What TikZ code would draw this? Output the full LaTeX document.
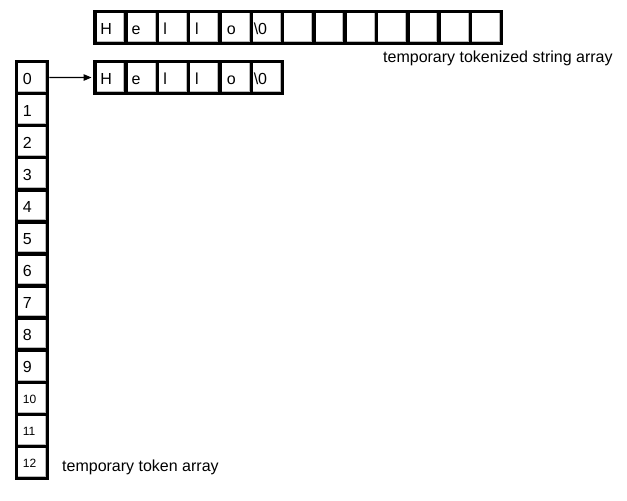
\documentclass[tikz,border=0pt]{standalone}
\usepackage{fontspec}
\setmainfont{Liberation Sans}
\usetikzlibrary{arrows.meta}
\tikzset{
  cell/.style={draw=black, fill=white, line width=3.5pt, inner sep=0pt,
    minimum width=31.3pt, minimum height=#1,
    path picture={\draw[gray!55,line width=1pt]
      ([xshift=-2.3pt]path picture bounding box.north east) --
      ([xshift=-2.3pt,yshift=2.3pt]path picture bounding box.south east) --
      ([yshift=2.3pt]path picture bounding box.south west);}},
  cell/.default=32pt,
  celltext/.style={anchor=base west, inner sep=0pt, font=\fontsize{16}{18}\selectfont},
  smalltext/.style={anchor=base west, inner sep=0pt, font=\fontsize{12}{14}\selectfont},
  lbl/.style={anchor=base west, inner sep=0pt, font=\fontsize{16}{18}\selectfont},
  ptr/.style={-{Triangle[length=8pt,width=6.5pt]}, line width=1.1pt, shorten >=1.5pt}
}
\begin{document}
\begin{tikzpicture}[x=1pt,y=-1pt]
\useasboundingbox[fill=white] (0,0) rectangle (627,501);
% top array (13 cells)
\foreach \i in {0,...,12} {
  \node[cell] (a\i) at ({94.8+31.3*(\i+0.5)},27.5) {};
}
% second array (6 cells)
\foreach \i in {0,...,5} {
  \node[cell] (s\i) at ({94.8+31.3*(\i+0.5)},77.5) {};
}
% left column (13 cells)
\foreach \j in {0,...,12} {
  \node[cell=32.08pt, minimum width=31pt] (t\j) at (32,{61.5+32.08*(\j+0.5)}) {};
}
% texts in top and second arrays
\foreach \c/\txt/\dx in {0/H/7,1/e/7,2/l/7.5,3/l/8,4/o/8.5,5/{\textbackslash 0}/4} {
  \node[celltext] (at\c) at ([xshift=\dx pt, yshift=-7.3pt]a\c.west) {\txt};
  \node[celltext] (st\c) at ([xshift=\dx pt, yshift=-6.8pt]s\c.west) {\txt};
}
% texts in left column
\foreach \j in {0,...,9} {
  \node[celltext] (tt\j) at ([xshift=8pt, yshift=-6.6pt]t\j.west) {\j};
}
\foreach \j in {10,11,12} {
  \node[smalltext] (tt\j) at ([xshift=8pt, yshift=-5.2pt]t\j.west) {\j};
}
% pointer
\draw[ptr] (t0.east) -- (s0.west);
% labels
\node[lbl] (lab1) at (383,62.5) {temporary tokenized string array};
\node[lbl] (lab2) at (62,471) {temporary token array};
\end{tikzpicture}
\end{document}
